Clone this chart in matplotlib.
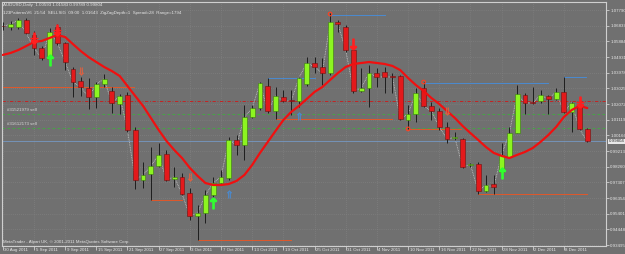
import numpy as np
import matplotlib.pyplot as plt
import matplotlib.transforms as mtransforms

# AUDUSD daily, 30 Aug 2011 .. 13 Dec 2011 (one bar per trading day)
opens = [1.0682, 1.0676, 1.0676, 1.0718, 1.0627, 1.0548, 1.0481, 1.0676, 1.0579, 1.0420,
         1.0348, 1.0305, 1.0250, 1.0329, 1.0287, 1.0208, 1.0262, 1.0050, 0.9746, 0.9782,
         0.9831, 0.9904, 0.9752, 0.9764, 0.9667, 0.9527, 0.9545, 0.9654, 0.9727, 0.9758,
         0.9989, 0.9958, 1.0129, 1.0183, 1.0317, 1.0165, 1.0250, 1.0232, 1.0226, 1.0329,
         1.0457, 1.0433, 1.0396, 1.0706, 1.0676, 1.0536, 1.0287, 1.0305, 1.0396, 1.0402,
         1.0375, 1.0378, 1.0110, 1.0147, 1.0305, 1.0196, 1.0165, 1.0068, 0.9998, 0.9995,
         0.9834, 0.9843, 0.9679, 0.9721, 0.9794, 0.9885, 1.0031, 1.0262, 1.0217, 1.0226,
         1.0256, 1.0238, 1.0281, 1.0159, 1.0202, 1.0056]
highs = [1.0706, 1.0712, 1.0731, 1.0731, 1.0652, 1.0560, 1.0670, 1.0694, 1.0585, 1.0433,
         1.0372, 1.0366, 1.0341, 1.0390, 1.0311, 1.0268, 1.0281, 1.0068, 0.9855, 0.9946,
         0.9971, 0.9928, 0.9825, 0.9788, 0.9697, 0.9594, 0.9685, 0.9764, 0.9806, 1.0007,
         1.0019, 1.0202, 1.0202, 1.0341, 1.0366, 1.0311, 1.0293, 1.0293, 1.0372, 1.0493,
         1.0493, 1.0487, 1.0761, 1.0718, 1.0688, 1.0548, 1.0427, 1.0445, 1.0427, 1.0433,
         1.0396, 1.0384, 1.0202, 1.0305, 1.0341, 1.0220, 1.0183, 1.0098, 1.0037, 1.0001,
         0.9849, 0.9855, 0.9776, 0.9776, 0.9971, 1.0068, 1.0323, 1.0275, 1.0311, 1.0293,
         1.0262, 1.0305, 1.0372, 1.0220, 1.0232, 1.0062]
lows = [1.0658, 1.0658, 1.0664, 1.0633, 1.0506, 1.0475, 1.0457, 1.0566, 1.0414, 1.0250,
        1.0256, 1.0177, 1.0183, 1.0311, 1.0153, 1.0147, 1.0037, 0.9691, 0.9697, 0.9624,
        0.9825, 0.9740, 0.9703, 0.9654, 0.9502, 0.9381, 0.9484, 0.9642, 0.9715, 0.9746,
        0.9898, 0.9867, 1.0123, 1.0171, 1.0153, 1.0117, 1.0220, 1.0141, 1.0189, 1.0317,
        1.0396, 1.0323, 1.0384, 1.0645, 1.0524, 1.0275, 1.0281, 1.0189, 1.0311, 1.0275,
        1.0275, 1.0110, 1.0056, 1.0098, 1.0189, 1.0110, 1.0050, 0.9971, 0.9989, 0.9819,
        0.9825, 0.9661, 0.9673, 0.9661, 0.9776, 0.9879, 1.0031, 1.0147, 1.0208, 1.0214,
        1.0147, 1.0232, 1.0153, 1.0037, 1.0050, 0.9977]
closes = [1.0679, 1.0694, 1.0718, 1.0639, 1.0548, 1.0487, 1.0645, 1.0579, 1.0463, 1.0341,
          1.0311, 1.0250, 1.0329, 1.0360, 1.0214, 1.0256, 1.0050, 0.9746, 0.9776, 0.9831,
          0.9898, 0.9746, 0.9764, 0.9661, 0.9527, 0.9545, 0.9654, 0.9727, 0.9764, 0.9989,
          0.9958, 1.0129, 1.0183, 1.0335, 1.0165, 1.0256, 1.0226, 1.0226, 1.0366, 1.0457,
          1.0433, 1.0396, 1.0706, 1.0694, 1.0536, 1.0287, 1.0305, 1.0396, 1.0372, 1.0372,
          1.0372, 1.0117, 1.0147, 1.0275, 1.0196, 1.0165, 1.0068, 0.9995, 1.0004, 0.9825,
          0.9840, 0.9679, 0.9715, 0.9703, 0.9898, 1.0031, 1.0268, 1.0214, 1.0214, 1.0262,
          1.0238, 1.0281, 1.0159, 1.0214, 1.0056, 0.99804]
ma = [1.0506, 1.0518, 1.0536, 1.0560, 1.0585, 1.0591, 1.0609, 1.0627, 1.0615, 1.0572,
      1.0530, 1.0493, 1.0463, 1.0433, 1.0408, 1.0378, 1.0317, 1.0256, 1.0196, 1.0123,
      1.0050, 0.9983, 0.9928, 0.9879, 0.9819, 0.9770, 0.9727, 0.9715, 0.9715, 0.9721,
      0.9740, 0.9776, 0.9837, 0.9910, 0.9977, 1.0044, 1.0110, 1.0159, 1.0196, 1.0238,
      1.0281, 1.0311, 1.0354, 1.0396, 1.0433, 1.0451, 1.0457, 1.0463, 1.0457, 1.0451,
      1.0439, 1.0414, 1.0366, 1.0323, 1.0287, 1.0244, 1.0208, 1.0165, 1.0123, 1.0074,
      1.0031, 0.9989, 0.9946, 0.9910, 0.9892, 0.9879, 0.9898, 0.9916, 0.9940, 0.9977,
      1.0019, 1.0068, 1.0129, 1.0171, 1.0196, 1.0183]

date_labels = ["30 Aug 2011", "5 Sep 2011", "9 Sep 2011", "15 Sep 2011", "21 Sep 2011",
               "27 Sep 2011", "3 Oct 2011", "7 Oct 2011", "13 Oct 2011", "19 Oct 2011",
               "25 Oct 2011", "31 Oct 2011", "4 Nov 2011", "10 Nov 2011", "16 Nov 2011",
               "22 Nov 2011", "28 Nov 2011", "2 Dec 2011", "8 Dec 2011"]
price_ticks = [1.07790, 1.06837, 1.05884, 1.04931, 1.03978, 1.03025, 1.02072, 1.01119,
               1.00166, 0.99213, 0.98260, 0.97307, 0.96354, 0.95401, 0.94448, 0.93495]

# order lines
order_levels = [1.0226, 1.0147, 1.0062]
order_names = ["", "#31521979 sell", "#31612173 sell"]

# support / resistance segments: (start bar, end bar, price)
support_segs = [(0, 16.9, 1.0311), (19, 23, 0.9624), (25, 37, 0.9381), (35, 50, 1.0117),
                (52, 58.8, 1.0056), (61, 75, 0.9661)]
resist_segs = [(34, 40, 1.0366), (42, 49, 1.0749), (54, 70, 1.0335), (72, 74.8, 1.0372)]

# pattern signals: bar index, price
sell_x = [4, 7, 45, 74]
sell_y = [1.0609, 1.0658, 1.0572, 1.0220]
buy_x = [6, 27, 64]
buy_y = [1.0475, 0.9606, 0.9788]
warn_dn_x = [10, 24, 57]
warn_dn_y = [1.0408, 0.9764, 1.0165]
warn_up_x = [29, 38]
warn_up_y = [0.9661, 1.0135]
pivot_x = [42, 52, 54]
pivot_y = [1.0755, 1.0056, 1.0341]

bg = '#707070'
green = '#8cf520'
red = '#e3191b'
fg = '#e6e6e6'
font = ['Liberation Sans Narrow', 'Liberation Sans', 'DejaVu Sans']
fs = 3.2

fig = plt.figure(figsize=(6.25, 2.54), dpi=100, facecolor=bg)
ax = fig.add_axes([2 / 625, 8 / 254, 604 / 625, 244 / 254], facecolor=bg)

n = len(opens)
x = np.arange(n)
o = np.array(opens); h = np.array(highs); l = np.array(lows); c = np.array(closes)

# grid
for t in price_ticks:
    ax.axhline(t, color='#868686', lw=0.5, ls=(0, (1, 2)), zorder=0)
for i in range(0, n, 4):
    ax.axvline(i, color='#868686', lw=0.5, ls=(0, (1, 2)), zorder=0)

# order / bid lines
ax.axhline(order_levels[0], color='#d01818', lw=0.6, ls=(0, (4, 2, 1, 2)), zorder=1)
for lev, name in zip(order_levels[1:], order_names[1:]):
    ax.axhline(lev, color='#3fae3f', lw=0.6, ls=(0, (3, 3)), zorder=1)
    ax.text(0.6, lev + 0.0012, name, color='#d8d8d8', fontsize=fs, family=font,
            va='bottom', ha='left')
ax.axhline(closes[-1], color='#7593b8', lw=0.7, zorder=1)

for s, e, p in support_segs:
    ax.plot([s, e], [p, p], color='#e0582a', lw=0.7, zorder=2)
for s, e, p in resist_segs:
    ax.plot([s, e], [p, p], color='#4a8ad0', lw=0.7, zorder=2)

# zigzag through closes
ax.plot(x, c, color='#c8c8c8', lw=0.6, ls=(0, (1, 1)), zorder=2)

# candles
up = c >= o
ax.vlines(x, l, h, color='#1e1e1e', lw=0.7, zorder=3)
body_lo = np.minimum(o, c)
body_h = np.maximum(np.abs(c - o), 0.0003)
ax.bar(x[up], body_h[up], bottom=body_lo[up], width=0.62, color=green,
       edgecolor='#3a7a10', lw=0.4, zorder=4)
ax.bar(x[~up], body_h[~up], bottom=body_lo[~up], width=0.62, color=red,
       edgecolor='#701010', lw=0.4, zorder=4)

# moving average
ax.plot(x, ma, color='#f01010', lw=1.6, zorder=5, solid_capstyle='round')

# signals
ax.scatter(sell_x, sell_y, marker=r'$\downarrow$', s=60, color='#ff2020', zorder=6)
ax.scatter(sell_x[:2] + sell_x[3:], sell_y[:2] + sell_y[3:], marker='+', s=35,
           color='#ff2020', lw=0.9, zorder=6)
ax.scatter(buy_x, buy_y, marker=r'$\uparrow$', s=60, color='#30ff30', zorder=6)
ax.scatter(warn_dn_x, warn_dn_y, marker=r'$\Downarrow$', s=30, color='#e06040',
           lw=0.3, zorder=6)
ax.scatter(warn_up_x, warn_up_y, marker=r'$\Uparrow$', s=30, color='#4a8ad0',
           lw=0.3, zorder=6)
ax.scatter(pivot_x, pivot_y, marker='o', s=7, facecolor='none', edgecolor='#ff4020',
           lw=0.8, zorder=6)

ax.set_xlim(-0.1, 77.4)
ax.set_ylim(0.9344, 1.0828)

# axes styling
for sp in ax.spines.values():
    sp.set_color('#cfcfcf')
    sp.set_linewidth(0.8)
ax.yaxis.tick_right()
ax.set_yticks(price_ticks)
ax.set_yticklabels(['%.5f' % t for t in price_ticks])
ax.tick_params(axis='y', colors='#cfcfcf', labelcolor=fg, labelsize=fs, length=2,
               width=0.6, pad=1)
for lab in ax.get_yticklabels():
    lab.set_family(font)
ax.set_xticks(range(0, n, 4))
ax.set_xticklabels([])
ax.tick_params(axis='x', colors='#cfcfcf', length=3, width=0.6)

trans = mtransforms.blended_transform_factory(ax.transData, ax.transAxes)
for i, lab in enumerate(date_labels):
    ax.text(i * 4 + 0.2, -0.01, lab, transform=trans, color=fg, fontsize=fs,
            family=font, va='top', ha='left')

# current price box
ax.text(1.004, closes[-1], '%.5f' % closes[-1], transform=mtransforms.blended_transform_factory(
        ax.transAxes, ax.transData), color='#303030', fontsize=fs, family=font,
        va='center', ha='left',
        bbox=dict(boxstyle='square,pad=0.15', facecolor='#e8e8e8', edgecolor='none'))

ax.text(0.002, 0.995, "AUDUSD,Daily  1.00593 1.01583 0.99789 0.99804",
        transform=ax.transAxes, color=fg, fontsize=fs, family=font, va='top', ha='left')
ax.text(0.002, 0.965, "123PatternsV6  21:54  SELLSIG  09:00  1.01643  ZigZagDepth=1  Spread=28  Range=1794",
        transform=ax.transAxes, color=fg, fontsize=fs, family=font, va='top', ha='left')
ax.text(0.002, 0.01, "MetaTrader - Alpari UK, \u00a9 2001-2011 MetaQuotes Software Corp.",
        transform=ax.transAxes, color=fg, fontsize=fs, family=font, va='bottom', ha='left')

fig.savefig('out.png', dpi=100, facecolor=bg)
